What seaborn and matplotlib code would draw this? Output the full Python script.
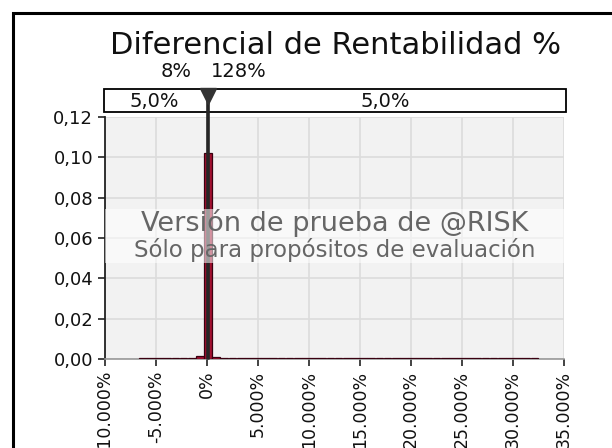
import matplotlib
matplotlib.use("Agg")
import matplotlib.pyplot as plt
import matplotlib.transforms as mtransforms
from matplotlib.patches import Rectangle
import seaborn as sns

# Histogram of the simulated differential (values in %)
bin_centers = [-6300, -5500, -4700, -3900, -3100, -2300, -1500, -700, 100,
               900, 1700, 2500, 3300, 4100, 4900, 5700, 6500, 7300, 8100,
               8900, 9700, 10500, 11300, 12100, 12900, 13700, 14500, 15300,
               16100, 16900, 17700, 18500, 19300, 20100, 20900, 21700, 22500,
               23300, 24100, 24900, 25700, 26500, 27300, 28100, 28900, 29700,
               30500, 31300, 32100]
bin_heights = [0.0006, 0.0005, 0.0006, 0.0005, 0.0006, 0.0006, 0.0007, 0.0014, 0.1020,
               0.0009, 0.0006, 0.0005, 0.0006, 0.0006, 0.0005, 0.0006, 0.0006, 0.0005, 0.0006,
               0.0006, 0.0005, 0.0006, 0.0006, 0.0005, 0.0006, 0.0006, 0.0005, 0.0006,
               0.0006, 0.0005, 0.0006, 0.0006, 0.0005, 0.0006, 0.0006, 0.0005, 0.0006,
               0.0006, 0.0005, 0.0006, 0.0006, 0.0005, 0.0006, 0.0006, 0.0005, 0.0006,
               0.0005, 0.0006, 0.0005]

# delimiters (5% / 95%)
delim_values = [8, 128]
delim_labels = ["8%", "128%"]
band_labels = ["5,0%", "5,0%"]

x_ticks = [-10000, -5000, 0, 5000, 10000, 15000, 20000, 25000, 30000, 35000]
x_ticklabels = ["-10.000%", "-5.000%", "0%", "5.000%", "10.000%", "15.000%",
                "20.000%", "25.000%", "30.000%", "35.000%"]
y_ticks = [0.00, 0.02, 0.04, 0.06, 0.08, 0.10, 0.12]
y_ticklabels = ["0,00", "0,02", "0,04", "0,06", "0,08", "0,10", "0,12"]

sns.set_style("white")
plt.rcParams["font.family"] = ["DejaVu Sans"]

fig = plt.figure(figsize=(6.12, 4.48), dpi=100)
ax = fig.add_axes([105 / 612, 89 / 448, 459 / 612, 242 / 448])
ax.set_facecolor("#f2f2f2")

sns.histplot(x=bin_centers, weights=bin_heights, binwidth=800,
             binrange=(-6700, 32500), shrink=0.95, color="#a3102f",
             edgecolor="#3a0010", linewidth=0.9, alpha=1, ax=ax, zorder=3)

ax.set_xlim(-10000, 35000)
ax.set_ylim(0, 0.12)
ax.set_xticks(x_ticks)
ax.set_xticklabels(x_ticklabels, rotation=90, fontsize=12.5)
ax.set_yticks(y_ticks)
ax.set_yticklabels(y_ticklabels, fontsize=13)
ax.set_xlabel("")
ax.set_ylabel("")
ax.grid(True, color="#dcdcdc", linewidth=1.2, zorder=0)
ax.set_axisbelow(True)
ax.tick_params(axis="both", direction="out", length=5, width=1.2,
               colors="#222222", labelcolor="#111111", bottom=True, left=True)
for s in ["top", "right"]:
    ax.spines[s].set_visible(False)
ax.spines["left"].set_color("#222222")
ax.spines["left"].set_linewidth(1.3)
ax.spines["bottom"].set_color("#999999")
ax.spines["bottom"].set_linewidth(1.2)

trans = mtransforms.blended_transform_factory(ax.transData, ax.transAxes)

# delimiter lines and marker
for v in delim_values:
    ax.plot([v, v], [0, 1.08], transform=trans, color="#262626", lw=1.9,
            clip_on=False, zorder=5, solid_capstyle="butt")
mid = sum(delim_values) / 2
ax.plot([mid], [1.088], transform=trans, marker="v", markersize=12,
        color="#333333", clip_on=False, zorder=7)

# top band
band = Rectangle((-0.002, 1.0207), 1.006, 0.095, transform=ax.transAxes,
                 facecolor="white", edgecolor="black", lw=1.3, clip_on=False,
                 zorder=4)
ax.add_patch(band)
ax.text(-5200, 1.066, band_labels[0], transform=trans, ha="center",
        va="center", fontsize=14, color="#111111", zorder=6)
ax.text(17500, 1.066, band_labels[1], transform=trans, ha="center",
        va="center", fontsize=14, color="#111111", zorder=6)
ax.text(-1500, 1.19, delim_labels[0], transform=trans, ha="right",
        va="center", fontsize=14, color="#111111")
ax.text(350, 1.19, delim_labels[1], transform=trans, ha="left",
        va="center", fontsize=14, color="#111111")

# evaluation watermark
ax.add_patch(Rectangle((0, 0.397), 1.004, 0.223, transform=ax.transAxes,
                       facecolor="white", edgecolor="none", alpha=0.55,
                       zorder=8, clip_on=False))
ax.text(0.5, 0.56, "Versión de prueba de @RISK", transform=ax.transAxes,
        ha="center", va="center", fontsize=19.5, color="#666666", zorder=9)
ax.text(0.5, 0.452, "Sólo para propósitos de evaluación",
        transform=ax.transAxes, ha="center", va="center", fontsize=16.5,
        color="#666666", zorder=9)

fig.text(335 / 612, 1 - 45 / 448, "Diferencial de Rentabilidad %",
         ha="center", va="center", fontsize=22, color="#111111")

# outer frame
fig.add_artist(Rectangle((13 / 612, -0.1), 1.2, 1 - 13 / 448 + 0.1,
                         transform=fig.transFigure, facecolor="none",
                         edgecolor="black", lw=2.2))

fig.savefig("out.png", dpi=100)
